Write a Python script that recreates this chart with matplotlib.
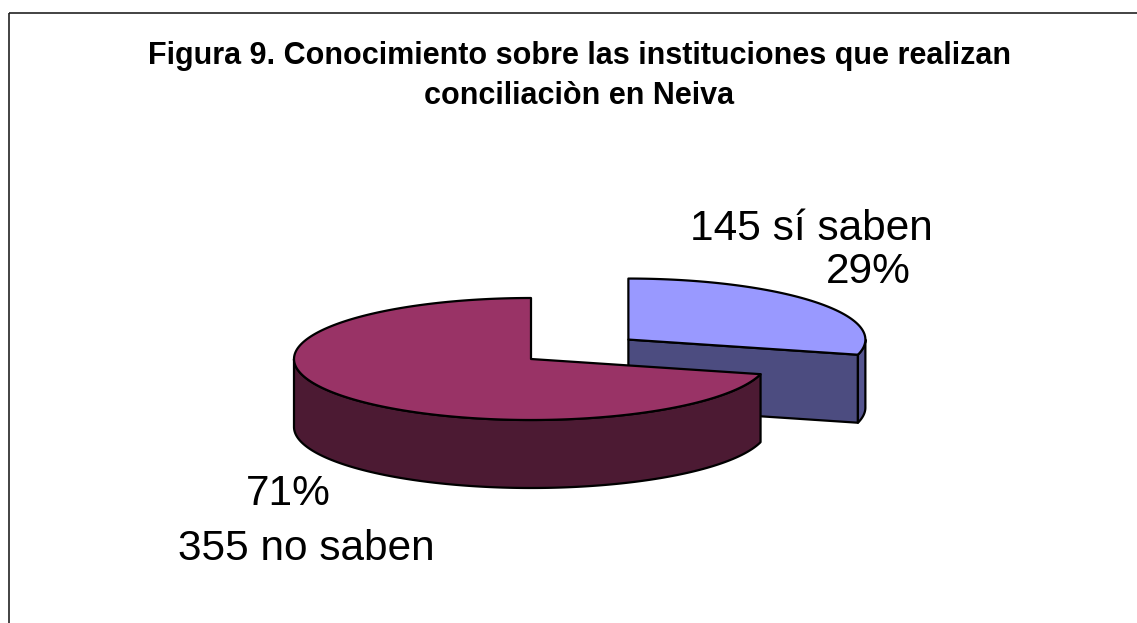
import numpy as np
import matplotlib
matplotlib.use("Agg")
import matplotlib.pyplot as plt
from matplotlib.patches import Polygon, Rectangle

# Data
categories = ["sí saben", "no saben"]
values = [145, 355]
top_colors = ["#9999FF", "#993366"]
face_colors = ["#4C4C80", "#4C1A33"]
wall_colors = ["#55558F", "#4C1A33"]
explode = [0.52, 0.0]

title_lines = ["Figura 9. Conocimiento sobre las instituciones que realizan",
               "conciliaciòn en Neiva"]

plt.rcParams["font.family"] = ["Liberation Sans", "DejaVu Sans"]

W, H = 1137, 623
fig = plt.figure(figsize=(W / 100, H / 100), dpi=100)
ax = fig.add_axes([0, 0, 1, 1])
ax.set_xlim(0, W)
ax.set_ylim(H, 0)
ax.axis("off")

# outer chart border (only left/top fall inside the picture)
ax.add_patch(Rectangle((9, 13), 1300, 800, fill=False, ec="#222222", lw=1.2))

# pie geometry (pixels)
cx, cy = 531, 359
rx, ry = 237, 61
depth = 68
lw = 1.6

total = float(sum(values))
fracs = [v / total for v in values]


def pt(c, t, dz=0.0):
    r = np.radians(t)
    return c[0] + rx * np.cos(r), c[1] - ry * np.sin(r) + dz


def arc(c, t1, t2, dz=0.0, n=200):
    ts = np.linspace(t1, t2, n)
    r = np.radians(ts)
    return np.column_stack([c[0] + rx * np.cos(r), c[1] - ry * np.sin(r) + dz])


slices = []
cum = 0.0
for i, f in enumerate(fracs):
    a_end = 90 - cum * 360
    a_start = 90 - (cum + f) * 360
    cum += f
    mid = np.radians((a_start + a_end) / 2)
    c = (cx + explode[i] * rx * np.cos(mid), cy - explode[i] * ry * np.sin(mid))
    slices.append((i, a_start, a_end, c))

# back slices first
slices.sort(key=lambda s: s[3][1])

for i, a1, a2, c in slices:
    # flat cut faces
    for ang, nrm in ((a1, a1 - 90), (a2, a2 + 90)):
        if np.sin(np.radians(nrm)) < -1e-6:
            ex, ey = pt(c, ang)
            poly = [(c[0], c[1]), (ex, ey), (ex, ey + depth), (c[0], c[1] + depth)]
            ax.add_patch(Polygon(poly, closed=True, fc=face_colors[i], ec="black",
                                 lw=lw, joinstyle="round"))
    # outer wall, front half only
    for k in range(-2, 2):
        lo, hi = -180 + 360 * k, 0 + 360 * k
        t1, t2 = max(a1, lo), min(a2, hi)
        if t2 > t1:
            top = arc(c, t1, t2)
            bot = arc(c, t1, t2, depth)[::-1]
            ax.add_patch(Polygon(np.vstack([top, bot]), closed=True,
                                 fc=wall_colors[i], ec="black", lw=lw,
                                 joinstyle="round"))
    # top surface
    pts = np.vstack([[c], arc(c, a1, a2)])
    ax.add_patch(Polygon(pts, closed=True, fc=top_colors[i], ec="black", lw=lw,
                         joinstyle="round"))

# titles
ax.text(579, 64, title_lines[0], ha="center", va="baseline", fontsize=22,
        fontweight="bold")
ax.text(579, 104, title_lines[1], ha="center", va="baseline", fontsize=22,
        fontweight="bold")

# data labels
pct = [f"{round(f * 100):.0f}%" for f in fracs]
lab_fs = 30.5
ax.text(811, 240, f"{values[0]} {categories[0]}", ha="center", va="baseline",
        fontsize=lab_fs)
ax.text(868, 283, pct[0], ha="center", va="baseline", fontsize=lab_fs)
ax.text(288, 505, pct[1], ha="center", va="baseline", fontsize=lab_fs)
ax.text(306, 560, f"{values[1]} {categories[1]}", ha="center", va="baseline",
        fontsize=lab_fs)

fig.savefig("out.png", dpi=100, facecolor="white")
